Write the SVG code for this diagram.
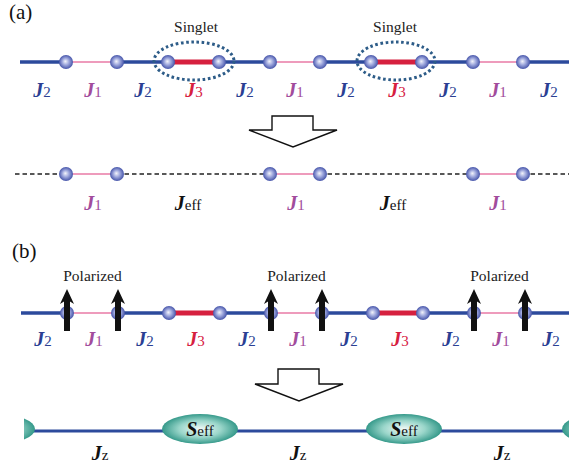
<svg xmlns="http://www.w3.org/2000/svg" width="569" height="469" viewBox="0 0 569 469">
<defs>
<radialGradient id="ball" cx="50%" cy="50%" r="50%" fx="45%" fy="45%">
<stop offset="0" stop-color="#f4f5fb"/>
<stop offset="0.45" stop-color="#a3acdf"/>
<stop offset="1" stop-color="#4655aa"/>
</radialGradient>
<radialGradient id="teal" cx="50%" cy="50%" r="50%">
<stop offset="0" stop-color="#f2faf8"/>
<stop offset="0.55" stop-color="#9ad6ca"/>
<stop offset="1" stop-color="#35998a"/>
</radialGradient>
<clipPath id="clipB"><rect x="24" y="380" width="545" height="80"/></clipPath>
</defs>
<style>
.j2{stroke:#2c4a9c;stroke-width:3.3;fill:none}
.j1{stroke:#e87aa6;stroke-width:1.6;fill:none}
.j3{stroke:#d6203f;stroke-width:5;fill:none}
.dash{stroke:#222;stroke-width:1.5;stroke-dasharray:4.5 3;fill:none}
.node{fill:url(#ball)}
.singlet{fill:none;stroke:#2d5c88;stroke-width:3;stroke-dasharray:2.6 2.6}
.bigarrow{fill:#fff;stroke:#111;stroke-width:1.4;stroke-linejoin:miter}
.spin{fill:#111}
.lbl{font-family:"Liberation Serif","Times New Roman",serif;text-anchor:middle}
.J{font-weight:bold;font-style:italic;font-size:20px}
.s{font-size:15px;font-weight:normal;font-style:normal}
.c2{fill:#2b3f93}
.c1{fill:#a24c9c}
.c3{fill:#d6203f}
.ck{fill:#111}
.txt{font-family:"Liberation Serif","Times New Roman",serif;font-size:15.5px;fill:#222;text-anchor:middle}
.panel{font-family:"Liberation Serif","Times New Roman",serif;font-size:21px;fill:#111}
.seff{fill:url(#teal)}
.jz{stroke:#2c4a9c;stroke-width:3;fill:none}
</style>

<text class="panel" x="9" y="19">(a)</text>
<text class="panel" x="12" y="258">(b)</text>

<g id="connectors">
<line class="j2" x1="20" y1="62" x2="66" y2="62"/>
<line class="j1" x1="66" y1="62" x2="117" y2="62"/>
<line class="j2" x1="117" y1="62" x2="168" y2="62"/>
<line class="j3" x1="168" y1="62" x2="219" y2="62"/>
<line class="j2" x1="219" y1="62" x2="270" y2="62"/>
<line class="j1" x1="270" y1="62" x2="320" y2="62"/>
<line class="j2" x1="320" y1="62" x2="371" y2="62"/>
<line class="j3" x1="371" y1="62" x2="422" y2="62"/>
<line class="j2" x1="422" y1="62" x2="473" y2="62"/>
<line class="j1" x1="473" y1="62" x2="523" y2="62"/>
<line class="j2" x1="523" y1="62" x2="569" y2="62"/>
<line class="dash" x1="15" y1="174" x2="66" y2="174"/>
<line class="j1" x1="66" y1="174" x2="117" y2="174"/>
<line class="dash" x1="117" y1="174" x2="270" y2="174"/>
<line class="j1" x1="270" y1="174" x2="320" y2="174"/>
<line class="dash" x1="320" y1="174" x2="473" y2="174"/>
<line class="j1" x1="473" y1="174" x2="523" y2="174"/>
<line class="dash" x1="523" y1="174" x2="569" y2="174"/>
<line class="j2" x1="21" y1="313" x2="67" y2="313"/>
<line class="j1" x1="67" y1="313" x2="118" y2="313"/>
<line class="j2" x1="118" y1="313" x2="169" y2="313"/>
<line class="j3" x1="169" y1="313" x2="220" y2="313"/>
<line class="j2" x1="220" y1="313" x2="271" y2="313"/>
<line class="j1" x1="271" y1="313" x2="322" y2="313"/>
<line class="j2" x1="322" y1="313" x2="373" y2="313"/>
<line class="j3" x1="373" y1="313" x2="423" y2="313"/>
<line class="j2" x1="423" y1="313" x2="474" y2="313"/>
<line class="j1" x1="474" y1="313" x2="525" y2="313"/>
<line class="j2" x1="525" y1="313" x2="569" y2="313"/>
<line class="jz" x1="24" y1="431" x2="569" y2="431"/>
</g>

<g id="singlets">
<ellipse class="singlet" cx="194" cy="61" rx="40" ry="19"/>
<ellipse class="singlet" cx="396" cy="61" rx="39" ry="19"/>
<text class="txt" x="196" y="32">Singlet</text>
<text class="txt" x="395" y="32">Singlet</text>
</g>

<g id="nodes-a">
<circle class="node" cx="66" cy="62" r="7"/>
<circle class="node" cx="117" cy="62" r="7"/>
<circle class="node" cx="168" cy="62" r="7"/>
<circle class="node" cx="219" cy="62" r="7"/>
<circle class="node" cx="270" cy="62" r="7"/>
<circle class="node" cx="320" cy="62" r="7"/>
<circle class="node" cx="371" cy="62" r="7"/>
<circle class="node" cx="422" cy="62" r="7"/>
<circle class="node" cx="473" cy="62" r="7"/>
<circle class="node" cx="523" cy="62" r="7"/>
</g>

<g id="labels-a" class="lbl">
<text x="42" y="97"><tspan class="J c2">J</tspan><tspan class="s c2">2</tspan></text>
<text x="93" y="97"><tspan class="J c1">J</tspan><tspan class="s c1">1</tspan></text>
<text x="143" y="97"><tspan class="J c2">J</tspan><tspan class="s c2">2</tspan></text>
<text x="194" y="97"><tspan class="J c3">J</tspan><tspan class="s c3">3</tspan></text>
<text x="245" y="97"><tspan class="J c2">J</tspan><tspan class="s c2">2</tspan></text>
<text x="295" y="97"><tspan class="J c1">J</tspan><tspan class="s c1">1</tspan></text>
<text x="346" y="97"><tspan class="J c2">J</tspan><tspan class="s c2">2</tspan></text>
<text x="397" y="97"><tspan class="J c3">J</tspan><tspan class="s c3">3</tspan></text>
<text x="448" y="97"><tspan class="J c2">J</tspan><tspan class="s c2">2</tspan></text>
<text x="498" y="97"><tspan class="J c1">J</tspan><tspan class="s c1">1</tspan></text>
<text x="549" y="97"><tspan class="J c2">J</tspan><tspan class="s c2">2</tspan></text>
</g>

<g id="arrow-a">
<polygon class="bigarrow" points="272,116 313,116 313,130 337,130 293,147 249,130 272,130"/>
</g>

<g id="nodes-a-eff">
<circle class="node" cx="66" cy="174" r="7"/>
<circle class="node" cx="117" cy="174" r="7"/>
<circle class="node" cx="270" cy="174" r="7"/>
<circle class="node" cx="320" cy="174" r="7"/>
<circle class="node" cx="473" cy="174" r="7"/>
<circle class="node" cx="523" cy="174" r="7"/>
</g>

<g id="labels-a-eff" class="lbl">
<text x="93" y="210"><tspan class="J c1">J</tspan><tspan class="s c1">1</tspan></text>
<text x="188" y="210"><tspan class="J ck">J</tspan><tspan class="s ck">eff</tspan></text>
<text x="296" y="210"><tspan class="J c1">J</tspan><tspan class="s c1">1</tspan></text>
<text x="393" y="210"><tspan class="J ck">J</tspan><tspan class="s ck">eff</tspan></text>
<text x="498" y="210"><tspan class="J c1">J</tspan><tspan class="s c1">1</tspan></text>
</g>

<g id="nodes-b">
<circle class="node" cx="67" cy="313" r="7"/>
<circle class="node" cx="118" cy="313" r="7"/>
<circle class="node" cx="169" cy="313" r="7"/>
<circle class="node" cx="220" cy="313" r="7"/>
<circle class="node" cx="271" cy="313" r="7"/>
<circle class="node" cx="322" cy="313" r="7"/>
<circle class="node" cx="373" cy="313" r="7"/>
<circle class="node" cx="423" cy="313" r="7"/>
<circle class="node" cx="474" cy="313" r="7"/>
<circle class="node" cx="525" cy="313" r="7"/>
</g>

<g id="spins">
<path class="spin" d="M67,289 L74,304 L70,301.5 L70,331 L64,331 L64,301.5 L60,304 Z"/>
<path class="spin" d="M118,289 L125,304 L121,301.5 L121,331 L115,331 L115,301.5 L111,304 Z"/>
<path class="spin" d="M271,289 L278,304 L274,301.5 L274,331 L268,331 L268,301.5 L264,304 Z"/>
<path class="spin" d="M322,289 L329,304 L325,301.5 L325,331 L319,331 L319,301.5 L315,304 Z"/>
<path class="spin" d="M474,289 L481,304 L477,301.5 L477,331 L471,331 L471,301.5 L467,304 Z"/>
<path class="spin" d="M525,289 L532,304 L528,301.5 L528,331 L522,331 L522,301.5 L518,304 Z"/>
<text class="txt" x="92.5" y="281">Polarized</text>
<text class="txt" x="296.5" y="281">Polarized</text>
<text class="txt" x="499.5" y="281">Polarized</text>
</g>

<g id="labels-b" class="lbl">
<text x="43" y="346"><tspan class="J c2">J</tspan><tspan class="s c2">2</tspan></text>
<text x="94" y="346"><tspan class="J c1">J</tspan><tspan class="s c1">1</tspan></text>
<text x="145" y="346"><tspan class="J c2">J</tspan><tspan class="s c2">2</tspan></text>
<text x="196" y="346"><tspan class="J c3">J</tspan><tspan class="s c3">3</tspan></text>
<text x="247" y="346"><tspan class="J c2">J</tspan><tspan class="s c2">2</tspan></text>
<text x="298" y="346"><tspan class="J c1">J</tspan><tspan class="s c1">1</tspan></text>
<text x="349" y="346"><tspan class="J c2">J</tspan><tspan class="s c2">2</tspan></text>
<text x="400" y="346"><tspan class="J c3">J</tspan><tspan class="s c3">3</tspan></text>
<text x="451" y="346"><tspan class="J c2">J</tspan><tspan class="s c2">2</tspan></text>
<text x="501" y="346"><tspan class="J c1">J</tspan><tspan class="s c1">1</tspan></text>
<text x="551" y="346"><tspan class="J c2">J</tspan><tspan class="s c2">2</tspan></text>
</g>

<g id="arrow-b">
<polygon class="bigarrow" points="278,369 319,369 319,384 343,384 299,401 255,384 278,384"/>
</g>

<g id="seff-nodes" clip-path="url(#clipB)">
<ellipse class="seff" cx="-3" cy="429" rx="38" ry="15"/>
<g id="seff1"><ellipse class="seff" cx="200" cy="429" rx="38" ry="15"/>
<text class="lbl" x="200" y="436"><tspan class="J ck">S</tspan><tspan class="s ck">eff</tspan></text></g>
<g id="seff2"><ellipse class="seff" cx="404" cy="429" rx="38" ry="15"/>
<text class="lbl" x="404" y="436"><tspan class="J ck">S</tspan><tspan class="s ck">eff</tspan></text></g>
<ellipse class="seff" cx="600" cy="429" rx="38" ry="15"/>
</g>

<g id="labels-jz" class="lbl">
<text x="100" y="460"><tspan class="J ck">J</tspan><tspan class="s ck">z</tspan></text>
<text x="298" y="460"><tspan class="J ck">J</tspan><tspan class="s ck">z</tspan></text>
<text x="502" y="460"><tspan class="J ck">J</tspan><tspan class="s ck">z</tspan></text>
</g>
</svg>
